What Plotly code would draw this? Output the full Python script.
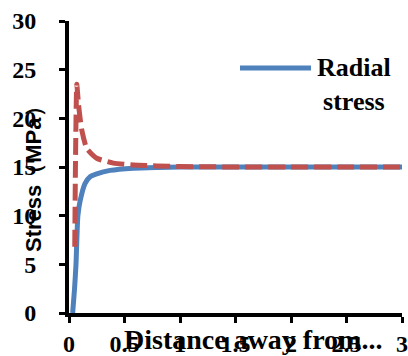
import plotly.graph_objects as go

# Data
radial_x = [0.033, 0.05, 0.063, 0.08, 0.1, 0.144, 0.19, 0.25, 0.37, 0.58, 0.8, 1.0, 1.5, 2.0, 2.5, 3.0]
radial_y = [0.0, 2.5, 5.0, 10.0, 11.5, 13.3, 14.0, 14.3, 14.65, 14.88, 14.96, 15.0, 15.0, 15.0, 15.0, 15.0]

hoop_x = [0.052, 0.058, 0.07, 0.085, 0.1, 0.115, 0.16, 0.25, 0.4, 0.58, 1.0, 1.5, 2.0, 2.5, 3.0]
hoop_y = [6.8, 15.0, 23.5, 21.5, 20.0, 18.8, 16.9, 15.9, 15.4, 15.2, 15.05, 15.0, 15.0, 15.0, 15.0]

x_ticks = [0, 0.5, 1, 1.5, 2, 2.5, 3]
y_ticks = [0, 5, 10, 15, 20, 25, 30]

legend_label = "Radial<br>stress"
x_title = "Distance away from..."
y_title = "Stress（MPa）"

BLUE = "#4F81BD"
RED = "#C0504D"
SERIF = "Liberation Serif"
SANS = "Liberation Sans"

fig = go.Figure()
fig.add_trace(go.Scatter(x=radial_x, y=radial_y, mode="lines",
                         line=dict(color=BLUE, width=5, shape="spline", smoothing=0.6),
                         showlegend=False, name="Radial stress"))
fig.add_trace(go.Scatter(x=hoop_x, y=hoop_y, mode="lines",
                         line=dict(color=RED, width=5, dash="17px,6px", shape="spline", smoothing=0.5),
                         showlegend=False, name="Hoop stress"))

axis_common = dict(showgrid=False, zeroline=False, showline=True, linecolor="black", linewidth=4,
                   ticks="outside", ticklen=6, tickwidth=3, tickcolor="black", automargin=False,
                   tickfont=dict(family=SERIF, size=24, color="black", weight="bold"))

fig.update_xaxes(range=[0, 3], tickvals=x_ticks, ticktext=[str(v) for v in x_ticks],
                 ticklabelstandoff=0, **axis_common)
fig.update_yaxes(range=[0, 30], tickvals=y_ticks, ticktext=[str(v) for v in y_ticks],
                 ticklabelstandoff=18, **axis_common)

# Legend (line sample + label)
fig.add_shape(type="line", xref="paper", yref="paper",
              x0=(240 - 69) / 333, x1=(311 - 69) / 333,
              y0=(313 - 68) / 292, y1=(313 - 68) / 292,
              line=dict(color=BLUE, width=5))
fig.add_annotation(text=legend_label, xref="paper", yref="paper",
                   x=(354 - 69) / 333, y=(313 - 84) / 292, xanchor="center", yanchor="middle",
                   showarrow=False, align="center",
                   font=dict(family=SERIF, size=26, color="black", weight="bold"))

# Axis titles
fig.add_annotation(text=x_title, xref="paper", yref="paper",
                   x=(253 - 69) / 333, y=(313 - 339) / 292, xanchor="center", yanchor="middle",
                   showarrow=False,
                   font=dict(family=SERIF, size=28, color="black", weight="bold"))
fig.add_annotation(text=y_title, xref="paper", yref="paper", textangle=-90,
                   x=(33 - 69) / 333, y=(313 - 174) / 292, xanchor="center", yanchor="middle",
                   showarrow=False,
                   font=dict(family=SANS, size=22, color="black", weight="bold"))

fig.update_layout(width=408, height=356, margin=dict(l=69, r=6, t=21, b=43),
                  paper_bgcolor="white", plot_bgcolor="white")

fig.write_html("out.html")
